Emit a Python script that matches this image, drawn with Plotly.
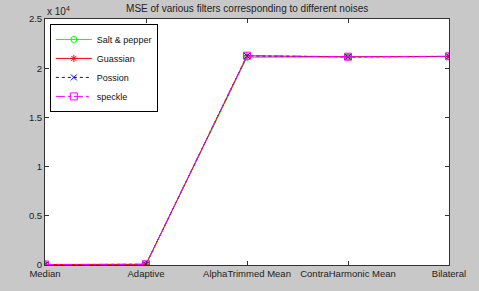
import plotly.graph_objects as go

categories = ["Median", "Adaptive", "AlphaTrimmed Mean", "ContraHarmonic Mean", "Bilateral"]
salt_pepper = [40, 60, 21100, 21130, 21180]
guassian = [50, 70, 21260, 21160, 21200]
possion = [45, 65, 21250, 21150, 21190]
speckle = [50, 75, 21270, 21170, 21210]
y_tick_vals = [0, 5000, 10000, 15000, 20000, 25000]
y_tick_text = ["0", "0.5", "1", "1.5", "2", "2.5"]

x = list(range(1, len(categories) + 1))

fig = go.Figure()
fig.add_trace(go.Scatter(x=x, y=salt_pepper, name="Salt & pepper", mode="lines+markers",
                         line=dict(color="#00ff00", width=1),
                         marker=dict(symbol="circle-open", size=6, color="#00ff00")))
fig.add_trace(go.Scatter(x=x, y=guassian, name="Guassian", mode="lines+markers",
                         line=dict(color="#ff0000", width=1),
                         marker=dict(symbol="asterisk-open", size=6, color="#ff0000", line=dict(width=1, color="#ff0000"))))
fig.add_trace(go.Scatter(x=x, y=possion, name="Possion", mode="lines+markers",
                         line=dict(color="#0000ff", width=1, dash="dot"),
                         marker=dict(symbol="x-thin-open", size=6, color="#0000ff", line=dict(width=1, color="#0000ff"))))
fig.add_trace(go.Scatter(x=x, y=speckle, name="speckle", mode="lines+markers",
                         line=dict(color="#ff00ff", width=1, dash="dashdot"),
                         marker=dict(symbol="square-open", size=7, color="#ff00ff", line=dict(width=1, color="#ff00ff"))))

fig.update_layout(
    width=479, height=291,
    margin=dict(l=45, r=30, t=19, b=23),
    paper_bgcolor="#c8c8c8", plot_bgcolor="white",
    font=dict(family="Liberation Sans, Arial, sans-serif", size=9.5, color="#222"),
    title=dict(text="MSE of various filters corresponding to different noises",
               x=0.516, xanchor="center", y=0.97, yanchor="middle",
               font=dict(size=10, color="#222")),
    showlegend=True,
    legend=dict(x=0.012, y=0.98, xanchor="left", yanchor="top",
                bgcolor="white", bordercolor="black", borderwidth=1,
                font=dict(size=9, color="#111"), tracegroupgap=0,
                itemwidth=36),
    xaxis=dict(range=[1, 5], tickvals=x, ticktext=categories,
               showgrid=False, zeroline=False, showline=True, linecolor="#333", linewidth=1,
               mirror="ticks", ticks="inside", ticklen=4, tickcolor="#333"),
    yaxis=dict(range=[0, 25000], tickvals=y_tick_vals, ticktext=y_tick_text,
               showgrid=False, zeroline=False, showline=True, linecolor="#333", linewidth=1,
               mirror="ticks", ticks="inside", ticklen=4, tickcolor="#333"),
)
fig.add_annotation(xref="paper", yref="paper", x=0, y=1, xanchor="left", yanchor="bottom",
                   text="x 10<sup>4</sup>", showarrow=False, font=dict(size=10, color="#222"))

fig.write_html("out.html", config={"displayModeBar": False},
               post_script="document.body.style.margin='0';document.body.style.padding='0';")
